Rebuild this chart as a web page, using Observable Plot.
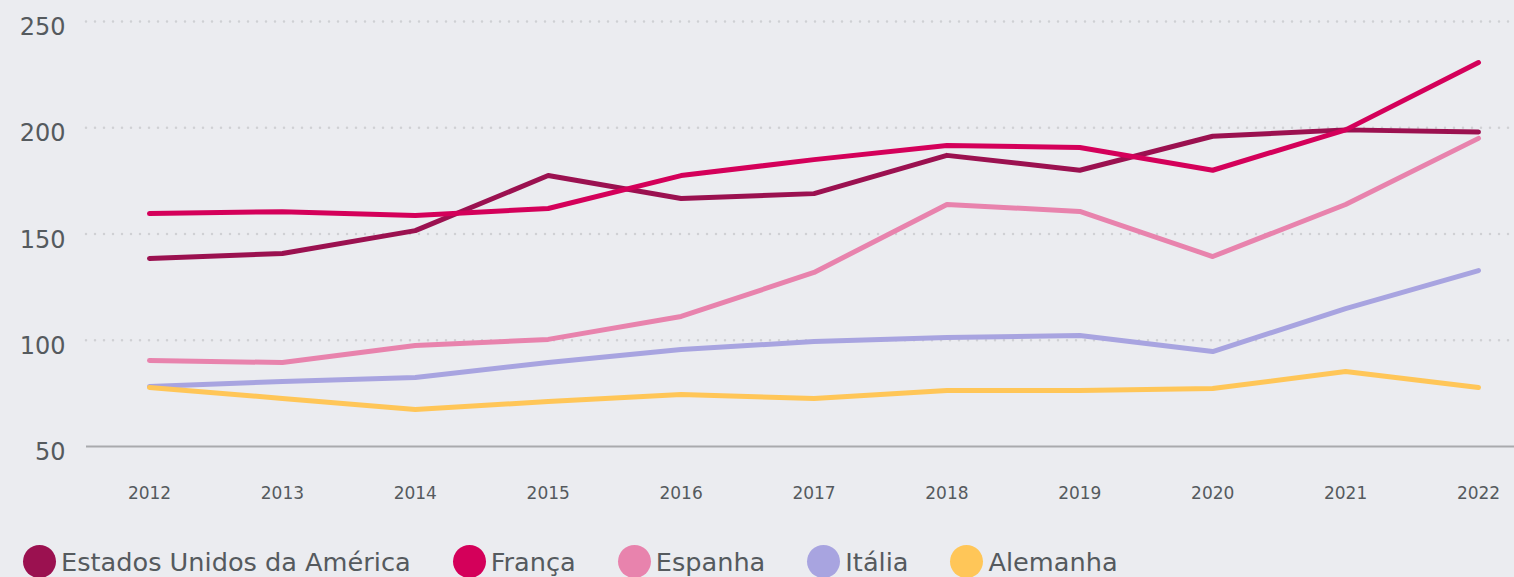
<!DOCTYPE html>
<html><head><meta charset="utf-8">
<script src="https://cdn.jsdelivr.net/npm/d3@7"></script>
<script src="https://cdn.jsdelivr.net/npm/@observablehq/plot@0.6"></script>
<style>
html,body{margin:0;padding:0;background:#ebecf0;width:1514px;height:577px;overflow:hidden;font-family:"DejaVu Sans",sans-serif;}
#legend{display:flex;align-items:center;margin-left:23px;margin-top:20px;font-size:25.6px;color:#555a5e;height:33px;white-space:nowrap;}
#legend .item{display:flex;align-items:center;margin-right:42px;}
#legend .sw{width:33px;height:33px;border-radius:50%;margin-right:5px;flex:none;}
</style></head><body>
<div id="chart"></div>
<div id="legend"></div>
<script>
const years = [2012,2013,2014,2015,2016,2017,2018,2019,2020,2021,2022];
const seriesNames = ["Estados Unidos da América","França","Espanha","Itália","Alemanha"];
const colors = ["#9b1150","#d4005a","#e883ad","#a8a4e0","#ffc658"];
const usa = [138.5,140.8,151.6,177.5,166.7,169,187,180,196,199,198];
const franca = [159.6,160.5,158.7,162,177.5,185,191.6,190.7,180,199,230.7];
const espanha = [90.5,89.5,97.5,100.4,111.2,131.9,163.9,160.6,139.4,163.9,195];
const italia = [78.2,80.6,82.5,89.5,95.6,99.4,101.3,102.2,94.7,114.9,132.8];
const alemanha = [77.8,72.6,67.4,71.2,74.5,72.6,76.4,76.4,77.3,85.3,77.8];
const yTicks = [50,100,150,200,250];

const allSeries = [usa,franca,espanha,italia,alemanha];
const data = [];
allSeries.forEach((vals,i)=>vals.forEach((v,j)=>data.push({year:years[j],value:v,country:seriesNames[i]})));

const chart = Plot.plot({
  width:1514, height:525,
  marginLeft:86, marginRight:0, marginTop:0, marginBottom:0,
  style:{background:"#ebecf0",fontFamily:"DejaVu Sans, sans-serif",overflow:"visible",display:"block"},
  x:{domain:[2012,2022], range:[149,1478], axis:null},
  y:{domain:[50,250], range:[446,21], axis:null},
  color:{domain:seriesNames, range:colors},
  marks:[
    Plot.ruleY(yTicks.filter(d=>d!==50),{stroke:"#cfd0d4",strokeWidth:2.5,strokeDasharray:"0,9",strokeLinecap:"round"}),
    Plot.ruleY([50],{stroke:"#a9aaad",strokeWidth:2}),
    Plot.text(yTicks,{x:()=>2012, dx:-84, dy:6, y:d=>d, text:d=>String(d), textAnchor:"end", fontSize:24, fill:"#555a5e"}),
    Plot.text(years,{x:d=>d, y:()=>50, dy:47, text:d=>String(d), fontSize:17, fill:"#555a5e"}),
    Plot.line(data,{x:"year",y:"value",z:"country",stroke:"country",strokeWidth:5,strokeLinecap:"round",strokeLinejoin:"round"})
  ]
});
document.getElementById("chart").appendChild(chart);

const leg = document.getElementById("legend");
seriesNames.forEach((n,i)=>{
  const it=document.createElement("div");it.className="item";
  const sw=document.createElement("span");sw.className="sw";sw.style.background=colors[i];
  const t=document.createElement("span");t.textContent=n;
  it.appendChild(sw);it.appendChild(t);leg.appendChild(it);
});
</script>
</body></html>
